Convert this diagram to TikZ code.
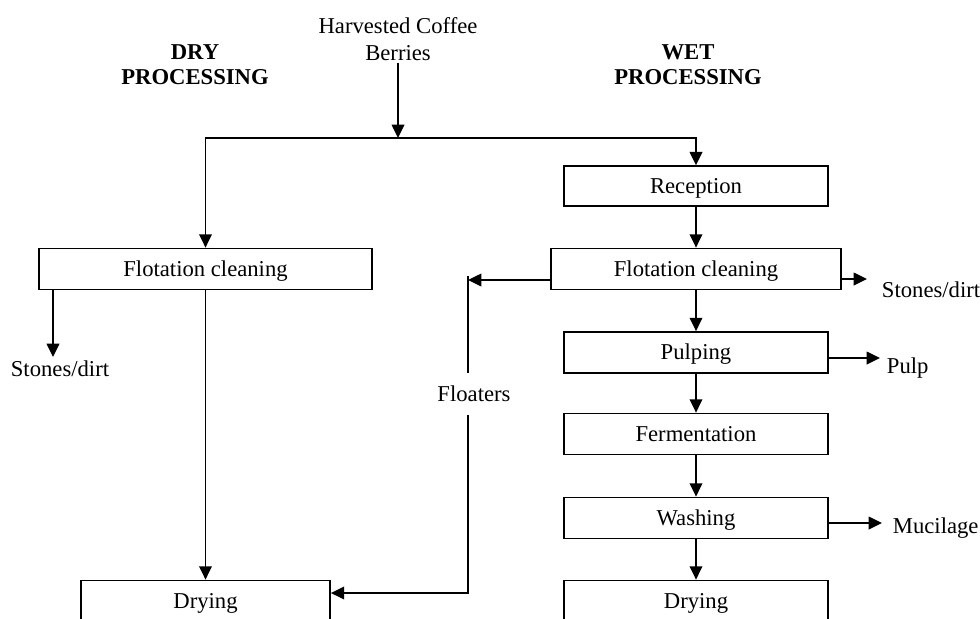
\documentclass[tikz,border=0pt]{standalone}
\usepackage{fontspec}
\setmainfont{Liberation Serif}
\usetikzlibrary{arrows.meta, positioning, calc}
\tikzset{
  >={Triangle[length=10pt,width=9.5pt]},
  font=\fontsize{17}{20}\selectfont,
  stage/.style={
    draw=black, fill=white, line width=1.1pt,
    minimum width=#1, minimum height=31pt, inner sep=2pt, align=center,
    text height=14pt, text depth=3.5pt
  },
  stage/.default=198pt,
  arr/.style={->, line width=1.1pt},
  link/.style={line width=1.1pt},
  lab/.style={align=center, inner sep=2pt},
  head/.style={align=center, inner sep=2pt, font=\fontsize{17}{19}\selectfont\bfseries}
}

\begin{document}
\begin{tikzpicture}[x=0.75pt, y=-0.75pt]
  \useasboundingbox (0,0) rectangle (980,618);
  \clip (0,0) rectangle (980,618);
  \node[lab] (berries) at (398,39) {Harvested Coffee\\Berries};
  \node[head] (dryhead) at (195,65) {DRY\\PROCESSING};
  \node[head] (wethead) at (688,65) {WET\\PROCESSING};
  \coordinate (split) at (398,138);
  \node[stage=250pt] (cleandry) at (205.5,269) {Flotation cleaning};
  \node[stage=187pt] (drydry) at (205.5,601) {Drying};
  \node[stage,minimum height=30pt] (reception) at (696,186) {Reception};
  \node[stage=217.5pt] (cleanwet) at (696,269) {Flotation cleaning};
  \node[stage] (pulping) at (696,352.5) {Pulping};
  \node[stage] (ferment) at (696,434) {Fermentation};
  \node[stage] (washing) at (696,518) {Washing};
  \node[stage] (drywet) at (696,601) {Drying};
  \draw[arr] (berries) -- (split);
  \draw[arr] (split) -| (cleandry);
  \draw[arr] (split) -| (reception);
  \draw[arr] (reception) -- (cleanwet);
  \draw[arr] (cleanwet) -- (pulping);
  \draw[arr] (pulping) -- (ferment);
  \draw[arr] (ferment) -- (washing);
  \draw[arr] (washing) -- (drywet);
  \draw[arr] (cleandry) -- (drydry);
  % side streams
  \coordinate (stonesdrytip) at (53,357);
  \node[lab,anchor=north] (stonesdry) at (60,358) {Stones/dirt};
  \draw[arr] (cleandry.south -| stonesdrytip) -- (stonesdrytip);
  \coordinate (floattop) at (468,280);
  \coordinate (floatbend) at (468,593);
  \node[lab,inner ysep=9.5pt] (floaters) at (474,394) {Floaters};
  \draw[arr] (cleanwet.west |- floattop) -- (floattop);
  \draw[link] ([yshift=3pt]floattop) -- (floattop |- floaters.north);
  \draw[arr] (floattop |- floaters.south) -- (floatbend) -- (drydry.east |- floatbend);
  \coordinate (stonestip) at (867,279);
  \node[lab,anchor=west] (stoneswet) at (879,290) {Stones/dirt};
  \draw[arr] (cleanwet.east |- stonestip) -- (stonestip);
  \coordinate (pulptip) at (880,358);
  \node[lab,anchor=west] (pulp) at (884,368) {Pulp};
  \draw[arr] (pulping.east |- pulptip) -- (pulptip);
  \coordinate (mucitip) at (882,523);
  \node[lab,anchor=west] (mucilage) at (890,528) {Mucilage};
  \draw[arr] (washing.east |- mucitip) -- (mucitip);
\end{tikzpicture}
\end{document}
